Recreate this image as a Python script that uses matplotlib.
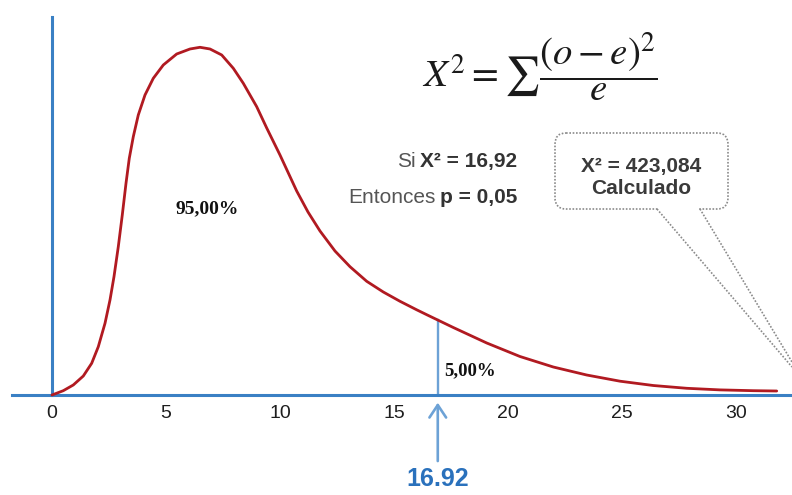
import numpy as np
import matplotlib
matplotlib.use('Agg')
import matplotlib.pyplot as plt
from matplotlib.patches import FancyBboxPatch

# ---------------- data ----------------
tick_values = [0, 5, 10, 15, 20, 25, 30]
tick_labels = ['0', '5', '10', '15', '20', '25', '30']

chi_x = [0.000, 0.496, 0.934, 1.373, 1.741, 2.031, 2.325, 2.544, 2.719,
         2.908, 3.083, 3.246, 3.390, 3.566, 3.785, 4.079, 4.443, 4.882,
         5.469, 6.053, 6.491, 6.930, 7.443, 7.952, 8.390, 8.978, 9.417,
         10.000, 10.732, 11.228, 11.754, 12.412, 13.070, 13.803, 14.531,
         15.263, 15.996, 16.461, 17.601, 19.066, 20.526, 21.987, 23.452,
         24.912, 26.373, 27.838, 29.298, 30.759, 31.785]
density = [0.00000, 0.00124, 0.00288, 0.00546, 0.00912, 0.01389, 0.02062,
           0.02732, 0.03402, 0.04265, 0.05177, 0.06089, 0.06808, 0.07429,
           0.08053, 0.08628, 0.09108, 0.09491, 0.09807, 0.09951, 0.10000,
           0.09951, 0.09779, 0.09396, 0.08965, 0.08292, 0.07679, 0.06902,
           0.05867, 0.05263, 0.04717, 0.04141, 0.03690, 0.03270, 0.02962,
           0.02695, 0.02450, 0.02301, 0.01941, 0.01496, 0.01107, 0.00805,
           0.00575, 0.00397, 0.00273, 0.00193, 0.00147, 0.00124, 0.00115]

critical_value = 16.92
critical_label = '16.92'
area_left_label = '95,00%'
area_right_label = '5,00%'
si_regular, si_bold = 'Si', 'X\u00b2 = 16,92'
ent_regular, ent_bold = 'Entonces', 'p = 0,05'
calc_line1 = 'X\u00b2 = 423,084'
calc_line2 = 'Calculado'
formula = r'$X^{2}=\sum\dfrac{(o-e)^{2}}{e}$'

# ---------------- figure ----------------
W, H = 792, 495
plt.rcParams['mathtext.fontset'] = 'stix'
fig = plt.figure(figsize=(W / 100, H / 100), dpi=100)
fig.patch.set_facecolor('white')

AX_BLUE = '#3a80c4'
ax = fig.add_axes([12 / W, (H - 395) / H, 780 / W, 378 / H])
ax.set_xlim(-1.754, 32.456)
ax.set_ylim(0, 0.10871)
ax.patch.set_visible(False)
for s in ('top', 'right'):
    ax.spines[s].set_visible(False)
ax.spines['bottom'].set_color(AX_BLUE)
ax.spines['bottom'].set_linewidth(2.2)
ax.spines['left'].set_color(AX_BLUE)
ax.spines['left'].set_linewidth(2.2)
ax.spines['left'].set_position(('data', 0))
ax.set_yticks([])
ax.set_xticks(tick_values)
ax.set_xticklabels(tick_labels, fontsize=14, family='Liberation Sans',
                   color='#1e1e1e')
ax.tick_params(axis='x', length=0, pad=7)

# curve
ax.plot(chi_x, density, color='#b11a21', lw=2.0, zorder=3,
        solid_capstyle='round', solid_joinstyle='round', clip_on=False)

# critical value line
y_top = np.interp(critical_value, chi_x, density)
ax.plot([critical_value, critical_value], [0, y_top], color='#6da2d6',
        lw=1.7, zorder=2)

# arrow under axis
ax.annotate('', xy=(critical_value, -0.0022), xytext=(critical_value, -0.0190),
            xycoords='data', textcoords='data', annotation_clip=False,
            arrowprops=dict(arrowstyle='->,head_length=0.9,head_width=0.6',
                            color='#6da2d6', lw=1.9, mutation_scale=10,
                            shrinkA=0, shrinkB=0))
ax.text(critical_value, -0.0263, critical_label, ha='center', va='baseline',
        fontsize=18, fontweight='bold', family='Liberation Sans',
        color='#2a71bc', clip_on=False)

# area labels
ax.text(6.82, 0.0535, area_left_label, ha='center', va='center', fontsize=14,
        fontweight='bold', family='Liberation Serif', color='#111111')
ax.text(18.33, 0.0070, area_right_label, ha='center', va='center',
        fontsize=13.5, fontweight='bold', family='Liberation Serif',
        color='#111111')

# ---------------- overlay (pixel coords) for annotations ----------------
ov = fig.add_axes([0, 0, 1, 1])
ov.set_xlim(0, W)
ov.set_ylim(H, 0)
ov.axis('off')
ov.patch.set_visible(False)

ov.text(540, 67, formula, ha='center', va='center', fontsize=28,
        color='#1a1a1a')

fig.canvas.draw()
renderer = fig.canvas.get_renderer()


def right_mixed(xr, yb, regular, bold, size):
    tb = ov.text(xr, yb, bold, ha='right', va='baseline', fontsize=size,
                 fontweight='bold', family='Liberation Sans', color='#333333')
    bb = tb.get_window_extent(renderer)
    x0 = ov.transData.inverted().transform((bb.x0, bb.y0))[0]
    ov.text(x0 - 4, yb, regular, ha='right', va='baseline', fontsize=size,
            family='Liberation Sans', color='#555555')


right_mixed(517, 166.7, si_regular, si_bold, 15)
right_mixed(517, 203.3, ent_regular, ent_bold, 15)

# callout box
box = FancyBboxPatch((555, 133), 173, 76,
                     boxstyle='round,pad=0,rounding_size=11',
                     fill=False, edgecolor='#8a8a8a', lw=1.2,
                     linestyle=(0, (1, 1)))
ov.add_patch(box)
ov.plot([659, 698], [209, 209], color='white', lw=3, solid_capstyle='butt')
ov.plot([657, 792], [209, 367], color='#8a8a8a', lw=1.2, linestyle=(0, (1, 1)))
ov.plot([700, 792], [209, 362], color='#8a8a8a', lw=1.2, linestyle=(0, (1, 1)))
ov.text(641, 171.7, calc_line1, ha='center', va='baseline', fontsize=15,
        fontweight='bold', family='Liberation Sans', color='#3a3a3a')
ov.text(641, 194, calc_line2, ha='center', va='baseline', fontsize=15,
        fontweight='bold', family='Liberation Sans', color='#3a3a3a')

fig.savefig('out.png', dpi=100)
